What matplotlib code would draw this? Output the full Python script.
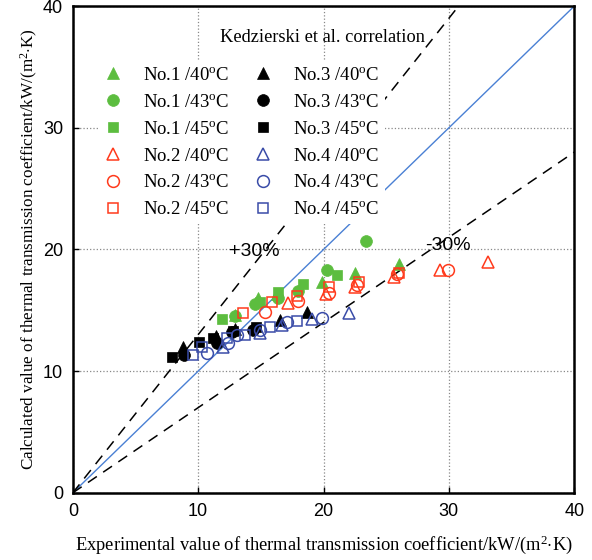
import matplotlib
matplotlib.use("Agg")
import matplotlib.pyplot as plt
import numpy as np

plt.rcParams['font.family'] = ['Liberation Serif', 'DejaVu Serif']
plt.rcParams['mathtext.fontset'] = 'custom'
plt.rcParams['mathtext.rm'] = 'Liberation Serif'
plt.rcParams['mathtext.it'] = 'Liberation Serif:italic'

# ---- data (experimental x, calculated y) ----
no1_40_x = [12.9, 14.8, 16.3, 19.9, 22.5, 26.0]
no1_40_y = [14.6, 16.0, 16.3, 17.3, 18.1, 18.8]
no1_43_x = [12.9, 14.5, 16.4, 18.0, 20.3, 23.4]
no1_43_y = [14.5, 15.5, 16.0, 16.6, 18.3, 20.7]
no1_45_x = [11.9, 14.9, 16.4, 18.4, 21.1]
no1_45_y = [14.3, 15.7, 16.5, 17.2, 17.9]

no2_40_x = [17.2, 20.2, 22.5, 25.6, 29.3, 33.1]
no2_40_y = [15.6, 16.3, 16.9, 17.7, 18.3, 19.0]
no2_43_x = [15.3, 18.0, 20.4, 22.7, 25.9, 29.9]
no2_43_y = [14.9, 15.8, 16.4, 17.1, 18.0, 18.3]
no2_45_x = [13.6, 15.9, 17.9, 20.4, 22.8, 26.0]
no2_45_y = [14.8, 15.7, 16.2, 16.9, 17.3, 18.1]

no3_40_x = [8.8, 11.4, 12.9, 16.5, 18.7]
no3_40_y = [12.0, 12.9, 13.5, 14.2, 14.9]
no3_43_x = [8.9, 11.5, 12.7, 14.4]
no3_43_y = [11.3, 12.3, 13.2, 13.4]
no3_45_x = [7.9, 10.1, 11.2, 12.8, 14.6]
no3_45_y = [11.2, 12.4, 12.7, 13.3, 13.6]

no4_40_x = [12.0, 14.9, 16.7, 19.1, 22.0]
no4_40_y = [12.0, 13.1, 13.8, 14.3, 14.8]
no4_43_x = [10.7, 12.4, 13.1, 14.9, 17.1, 19.9]
no4_43_y = [11.5, 12.3, 13.0, 13.4, 14.0, 14.4]
no4_45_x = [9.6, 10.3, 12.3, 13.7, 15.7, 17.9]
no4_45_y = [11.3, 12.0, 12.7, 13.0, 13.6, 14.1]

ticks = [0, 10, 20, 30, 40]
deviation = 0.30

GREEN = '#5cbd3f'
RED = '#ff3a1c'
BLACK = '#000000'
BLUE = '#3a4ca8'

series = [
    (no1_40_x, no1_40_y, '^', GREEN, True, 'No.1 /40$^{\\rm o}$C'),
    (no1_43_x, no1_43_y, 'o', GREEN, True, 'No.1 /43$^{\\rm o}$C'),
    (no1_45_x, no1_45_y, 's', GREEN, True, 'No.1 /45$^{\\rm o}$C'),
    (no2_40_x, no2_40_y, '^', RED, False, 'No.2 /40$^{\\rm o}$C'),
    (no2_43_x, no2_43_y, 'o', RED, False, 'No.2 /43$^{\\rm o}$C'),
    (no2_45_x, no2_45_y, 's', RED, False, 'No.2 /45$^{\\rm o}$C'),
    (no3_40_x, no3_40_y, '^', BLACK, True, 'No.3 /40$^{\\rm o}$C'),
    (no3_43_x, no3_43_y, 'o', BLACK, True, 'No.3 /43$^{\\rm o}$C'),
    (no3_45_x, no3_45_y, 's', BLACK, True, 'No.3 /45$^{\\rm o}$C'),
    (no4_40_x, no4_40_y, '^', BLUE, False, 'No.4 /40$^{\\rm o}$C'),
    (no4_43_x, no4_43_y, 'o', BLUE, False, 'No.4 /43$^{\\rm o}$C'),
    (no4_45_x, no4_45_y, 's', BLUE, False, 'No.4 /45$^{\\rm o}$C'),
]

fig = plt.figure(figsize=(5.92, 5.60), dpi=100)
ax = fig.add_axes([0.123, 0.120, 0.847, 0.869])

ax.set_xlim(0, 40)
ax.set_ylim(0, 40)

# reference lines
xs = np.array([0, 40])
ax.plot(xs, xs, color='#4a80d4', lw=1.0, zorder=2)
ax.plot([0, 40 / (1 + deviation)], [0, 40], color='black', lw=1.1,
        dashes=(7, 5), zorder=2)
ax.plot(xs, xs * (1 - deviation), color='black', lw=1.1,
        dashes=(7, 5), zorder=2)

handles = []
for x, y, m, c, filled, lab in series:
    ms = 9 if m == '^' else (8.5 if m == 'o' else 7.5)
    if filled:
        h, = ax.plot(x, y, linestyle='none', marker=m, markersize=ms,
                     markerfacecolor=c, markeredgecolor=c, markeredgewidth=0.5,
                     label=lab, zorder=3)
    else:
        h, = ax.plot(x, y, linestyle='none', marker=m, markersize=ms,
                     markerfacecolor='none', markeredgecolor=c,
                     markeredgewidth=1.1, label=lab, zorder=3)
    handles.append(h)

ax.set_xticks(ticks)
ax.set_yticks(ticks)
ax.grid(True, linestyle=':', color='#888888', lw=0.9)
ax.set_axisbelow(True)
ax.tick_params(direction='in', length=4, width=1, labelsize=13, pad=7)
for lab in ax.get_xticklabels() + ax.get_yticklabels():
    lab.set_family(['Liberation Sans', 'DejaVu Sans'])
for sp in ax.spines.values():
    sp.set_linewidth(1.8)

leg = ax.legend(handles=handles, ncol=2, loc='upper left',
                bbox_to_anchor=(0.05, 0.887), fontsize=13.5,
                handlelength=1.0, handletextpad=1.1, columnspacing=1.3,
                labelspacing=0.52, frameon=True, facecolor='white',
                edgecolor='none', framealpha=1, borderaxespad=0,
                borderpad=0.3, fancybox=False)
leg.set_zorder(5)

ax.text(19.9, 37.4, 'Kedzierski et al. correlation', fontsize=13.2,
        ha='center', va='center', zorder=6)
ax.text(14.5, 19.8, '+30%', fontsize=14, ha='center', va='center',
        family=['Liberation Sans', 'DejaVu Sans'], zorder=6)
ax.text(29.9, 20.3, '-30%', fontsize=14, ha='center', va='center',
        family=['Liberation Sans', 'DejaVu Sans'], zorder=6)

ax.set_xlabel('Experimental value of thermal transmission coefficient/kW/(m$^2$$\\cdot$K)',
              fontsize=13.3, labelpad=10)
ax.set_ylabel('Calculated value of thermal transmission coefficient/kW/(m$^2$$\\cdot$K)',
              fontsize=12.3, labelpad=2)

fig.savefig('out.png', dpi=100)
